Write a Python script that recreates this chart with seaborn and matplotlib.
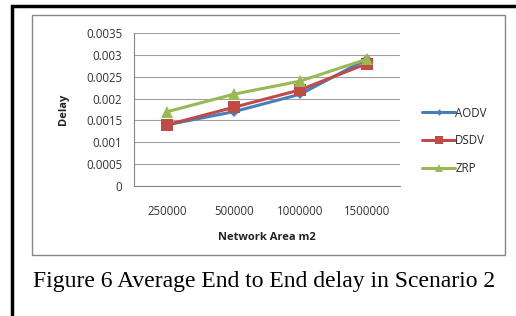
import pandas as pd
import seaborn as sns
import matplotlib.pyplot as plt
from matplotlib.patches import Rectangle
from matplotlib.ticker import FixedLocator

# data
areas = ['250000', '500000', '1000000', '1500000']
aodv = [0.0014, 0.0017, 0.0021, 0.0029]
dsdv = [0.0014, 0.0018, 0.0022, 0.0028]
zrp = [0.0017, 0.0021, 0.0024, 0.0029]
protocols = ['AODV', 'DSDV', 'ZRP']
yticks = [0, 0.0005, 0.001, 0.0015, 0.002, 0.0025, 0.003, 0.0035]
ylabels = ['0', '0.0005', '0.001', '0.0015', '0.002', '0.0025', '0.003', '0.0035']

df = pd.DataFrame({
    'area': areas * 3,
    'delay': aodv + dsdv + zrp,
    'protocol': [p for p in protocols for _ in areas],
})

sns.set_style('white')
plt.rcParams['font.family'] = ['Open Sans', 'DejaVu Sans']

fig = plt.figure(figsize=(5.16, 3.16), dpi=100)
ax = fig.add_axes([134 / 516, 1 - 186 / 316, 266 / 516, 153 / 316])

colors = {'AODV': '#4A7EBB', 'DSDV': '#BE4B48', 'ZRP': '#98B954'}
markers = {'AODV': 'D', 'DSDV': 's', 'ZRP': '^'}
sizes = {'AODV': 5, 'DSDV': 8, 'ZRP': 9}

for p in protocols:
    sub = df[df['protocol'] == p]
    sns.lineplot(data=sub, x='area', y='delay', ax=ax, color=colors[p],
                 marker=markers[p], markersize=sizes[p], markeredgewidth=0,
                 linewidth=2.2, label=p, sort=False)

ax.set_xlim(-0.5, 3.5)
ax.set_ylim(0, 0.0035)
ax.set_yticks(yticks)
ax.set_yticklabels(ylabels)
ax.xaxis.set_minor_locator(FixedLocator([-0.5, 0.5, 1.5, 2.5, 3.5]))
ax.tick_params(axis='x', which='major', length=0, pad=14, labelsize=8.3, colors='#333333')
ax.tick_params(axis='x', which='minor', length=5, color='#868686', width=0.8, direction='out')
ax.tick_params(axis='y', length=5, color='#868686', width=0.8, direction='out', labelsize=8.3,
               labelcolor='#333333')
ax.grid(axis='y', color='#a0a0a0', linewidth=0.8)
ax.set_axisbelow(True)
for s in ['top', 'right']:
    ax.spines[s].set_visible(False)
for s in ['left', 'bottom']:
    ax.spines[s].set_color('#868686')
    ax.spines[s].set_linewidth(0.8)

ax.set_xlabel('Network Area m2', fontsize=8, fontweight='bold', labelpad=10, color='#222222')
ax.set_ylabel('Delay', fontsize=8, fontweight='bold', labelpad=12, color='#222222')

leg = ax.legend(loc='center left', bbox_to_anchor=(412 / 516, 1 - 141 / 316),
                bbox_transform=fig.transFigure, frameon=False, fontsize=8.3,
                handlelength=2.8, handletextpad=0.05, labelspacing=1.3, markerscale=0.65)

# chart frame and outer page border
fig.add_artist(Rectangle((32 / 516, 1 - 255 / 316), 473 / 516, 240 / 316,
                         transform=fig.transFigure, fill=False, edgecolor='#868686', lw=1))
fig.add_artist(Rectangle((12 / 516, -0.1), 1.2, 1 - 6 / 316 + 0.1,
                         transform=fig.transFigure, fill=False, edgecolor='black', lw=2.5))

fig.text(264 / 516, 1 - 281 / 316, 'Figure 6 Average End to End delay in Scenario 2',
         ha='center', va='center', fontsize=17, color='black',
         family=['Liberation Serif', 'DejaVu Serif'])

fig.savefig('out.png', dpi=100)
